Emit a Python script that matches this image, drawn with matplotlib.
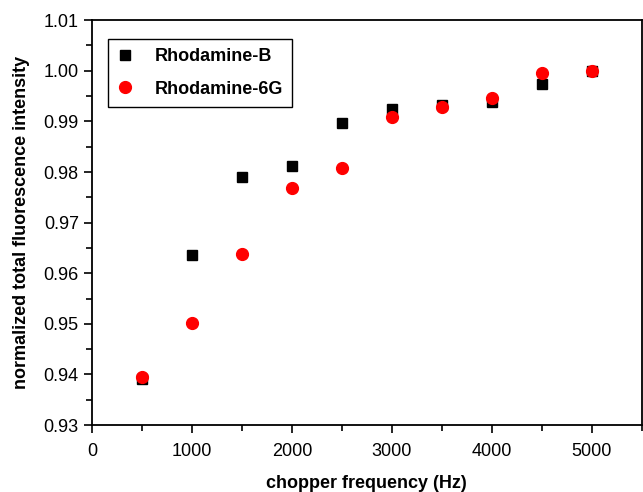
import matplotlib
matplotlib.use("Agg")
import matplotlib.pyplot as plt
from matplotlib.ticker import MultipleLocator

plt.rcParams["font.family"] = ["Liberation Sans", "DejaVu Sans"]

freq = [500, 1000, 1500, 2000, 2500, 3000, 3500, 4000, 4500, 5000]
rhod_b = [0.9392, 0.9637, 0.9791, 0.9812, 0.9896, 0.9925, 0.9932, 0.9938, 0.9973, 1.0000]
rhod_6g = [0.9395, 0.9502, 0.9638, 0.9769, 0.9808, 0.9909, 0.9929, 0.9947, 0.9995, 1.0000]

fig = plt.figure(figsize=(6.43, 4.92), dpi=100)
ax = fig.add_axes([0.143, 0.136, 0.855, 0.823])

ax.plot(freq, rhod_b, "s", color="black", markersize=7.5, label="Rhodamine-B")
ax.plot(freq, rhod_6g, "o", color="red", markersize=8.5, label="Rhodamine-6G")

ax.set_xlim(0, 5500)
ax.set_ylim(0.93, 1.01)
ax.xaxis.set_major_locator(MultipleLocator(1000))
ax.xaxis.set_minor_locator(MultipleLocator(500))
ax.yaxis.set_major_locator(MultipleLocator(0.01))
ax.yaxis.set_minor_locator(MultipleLocator(0.005))
ax.yaxis.set_major_formatter(lambda v, p: f"{v:.2f}")

ax.tick_params(which="major", direction="out", length=6, width=1.2, labelsize=13)
ax.tick_params(axis="x", which="major", pad=7)
ax.tick_params(which="minor", direction="out", length=4, width=1.2)
for s in ax.spines.values():
    s.set_linewidth(1.3)

ax.set_xlabel("chopper frequency (Hz)", fontsize=13, fontweight="bold", labelpad=11)
ax.set_ylabel("normalized total fluorescence intensity", fontsize=13, fontweight="bold", labelpad=10)

leg = ax.legend(loc="upper left", bbox_to_anchor=(0.012, 0.975),
                prop={"weight": "bold", "size": 13}, fancybox=False,
                edgecolor="black", framealpha=1, handlelength=0.9,
                handletextpad=1.2, borderpad=0.5, labelspacing=0.85)
leg.get_frame().set_linewidth(1.0)

fig.savefig("out.png", dpi=100)
